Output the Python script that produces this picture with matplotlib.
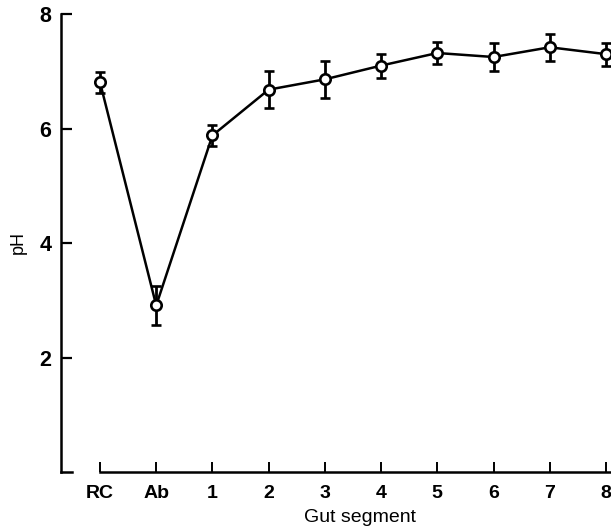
import matplotlib
matplotlib.use("Agg")
import matplotlib.pyplot as plt

segments = ["RC", "Ab", "1", "2", "3", "4", "5", "6", "7", "8"]
ph_mean = [6.81, 2.91, 5.88, 6.68, 6.86, 7.10, 7.32, 7.25, 7.42, 7.30]
ph_err = [0.18, 0.34, 0.18, 0.32, 0.32, 0.21, 0.20, 0.25, 0.24, 0.20]

plt.rcParams['font.family'] = ['Liberation Sans', 'DejaVu Sans']

fig = plt.figure(figsize=(6.11, 5.31), dpi=100)
ax = fig.add_axes([0.0998, 0.111, 0.9002, 0.8625])

x = list(range(len(segments)))
ax.errorbar(x, ph_mean, yerr=ph_err, color="black", lw=1.8,
            marker="o", markersize=7.5, markerfacecolor="white",
            markeredgecolor="black", markeredgewidth=1.9,
            ecolor="black", elinewidth=2, capsize=3.5, capthick=2,
            zorder=3, clip_on=False)

ax.set_xlim(-0.694, 9.09)
ax.set_ylim(0, 8)
ax.set_xticks(x)
ax.set_xticklabels(segments)
ax.set_yticks([2, 4, 6, 8])

for side in ["top", "right"]:
    ax.spines[side].set_visible(False)
ax.spines["left"].set_linewidth(1.8)
ax.spines["bottom"].set_linewidth(1.8)
ax.spines["bottom"].set_bounds(0, 9.09)
# small foot at the bottom of the y axis
ax.axhline(0, xmin=0, xmax=0.02, color="black", lw=1.8, clip_on=False)

ax.tick_params(axis="y", direction="in", length=8, width=1.6,
               labelsize=15.5, pad=7)
ax.tick_params(axis="x", direction="in", length=7, width=1.4,
               labelsize=14, pad=9)
for lab in ax.get_xticklabels() + ax.get_yticklabels():
    lab.set_fontweight("bold")

ax.set_xlabel("Gut segment", fontsize=14)
ax.xaxis.set_label_coords(0.544, -0.08)
ax.set_ylabel("pH", fontsize=13)
ax.yaxis.set_label_coords(-0.062, 0.502)

fig.savefig("out.png", dpi=100)
